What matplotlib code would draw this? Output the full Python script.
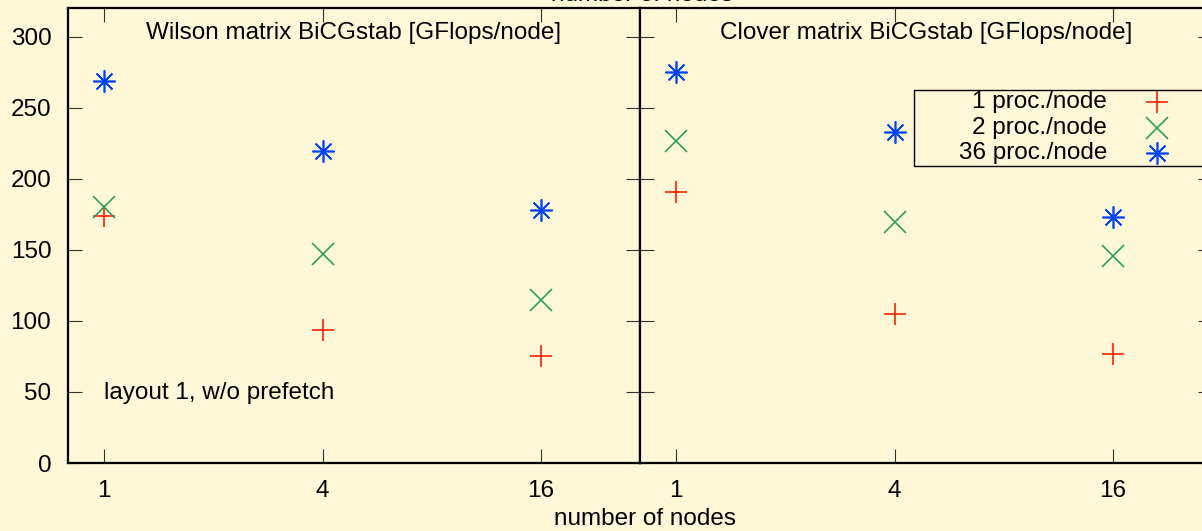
import matplotlib
matplotlib.use("Agg")
import matplotlib.pyplot as plt
from matplotlib.patches import Rectangle
from matplotlib.ticker import FixedLocator, NullLocator, FixedFormatter

plt.rcParams['font.family'] = ['Liberation Sans', 'DejaVu Sans']
plt.rcParams['font.size'] = 17.5

# data
nodes = [1, 4, 16]
node_labels = ['1', '4', '16']
series = ['1 proc./node', '2 proc./node', '36 proc./node']
wilson = {
    '1 proc./node': [174, 94, 75],
    '2 proc./node': [180, 147, 115],
    '36 proc./node': [269, 220, 178],
}
clover = {
    '1 proc./node': [191, 105, 77],
    '2 proc./node': [227, 170, 146],
    '36 proc./node': [275, 233, 173],
}
colors = ['#ff2000', '#2f9e5f', '#0044ff']
markers = ['+', 'x', (8, 2, 0)]
bg = '#fff8d8'

W, H = 1202, 531
fig = plt.figure(figsize=(W / 100, H / 100), dpi=100, facecolor=bg)

def px(x0, y0, x1, y1):
    return [x0 / W, 1 - y1 / H, (x1 - x0) / W, (y1 - y0) / H]

ax1 = fig.add_axes(px(68, 8, 640, 463))
ax2 = fig.add_axes(px(640, 8, 1212, 463))

for ax, data in [(ax1, wilson), (ax2, clover)]:
    ax.set_facecolor(bg)
    for s, c, m in zip(series, colors, markers):
        ax.plot(nodes, data[s], linestyle='none', marker=m, color=c,
                markersize=16, markeredgewidth=1.2, label=s)
    ax.set_xscale('log', base=2)
    ax.set_xlim(2 ** -0.33, 2 ** 4.906)
    ax.set_ylim(0, 320.4)
    ax.xaxis.set_major_locator(FixedLocator(nodes))
    ax.xaxis.set_major_formatter(FixedFormatter(node_labels))
    ax.xaxis.set_minor_locator(NullLocator())
    ax.set_yticks([0, 50, 100, 150, 200, 250, 300])
    ax.tick_params(direction='in', top=True, right=True, length=10,
                   width=0.8, color='#333333', pad=12, labelsize=17.5)
    for sp in ax.spines.values():
        sp.set_linewidth(1.6)

ax2.tick_params(labelleft=False)

ax1.text(0.5, 0.945, 'Wilson matrix BiCGstab [GFlops/node]', transform=ax1.transAxes,
         ha='center', va='center')
ax2.text(0.5, 0.945, 'Clover matrix BiCGstab [GFlops/node]', transform=ax2.transAxes,
         ha='center', va='center')
ax1.text(1, 49, 'layout 1, w/o prefetch', ha='left', va='center')

fig.text(645 / W, 1 - 519 / H, 'number of nodes', ha='center', va='center')
fig.text(642 / W, 1 + 5 / H, 'number of nodes', ha='center', va='center')

# legend box drawn by hand so the labels can be right-aligned like gnuplot
ax2.add_patch(Rectangle((914 / W, 1 - 166 / H), 300 / W, 76 / H,
                        transform=fig.transFigure, facecolor=bg,
                        edgecolor='black', linewidth=1.0, zorder=5, clip_on=False))
row_y = [102, 128, 153]
for s, c, m, ry in zip(series, colors, markers, row_y):
    ax2.text(1107 / W, 1 - ry / H, s, transform=fig.transFigure,
             ha='right', va='center', zorder=6)
    ax2.plot([1157 / W], [1 - ry / H], transform=fig.transFigure, linestyle='none',
             marker=m, color=c, markersize=16, markeredgewidth=1.2,
             clip_on=False, zorder=6)

fig.savefig('out.png', dpi=100, facecolor=bg)
